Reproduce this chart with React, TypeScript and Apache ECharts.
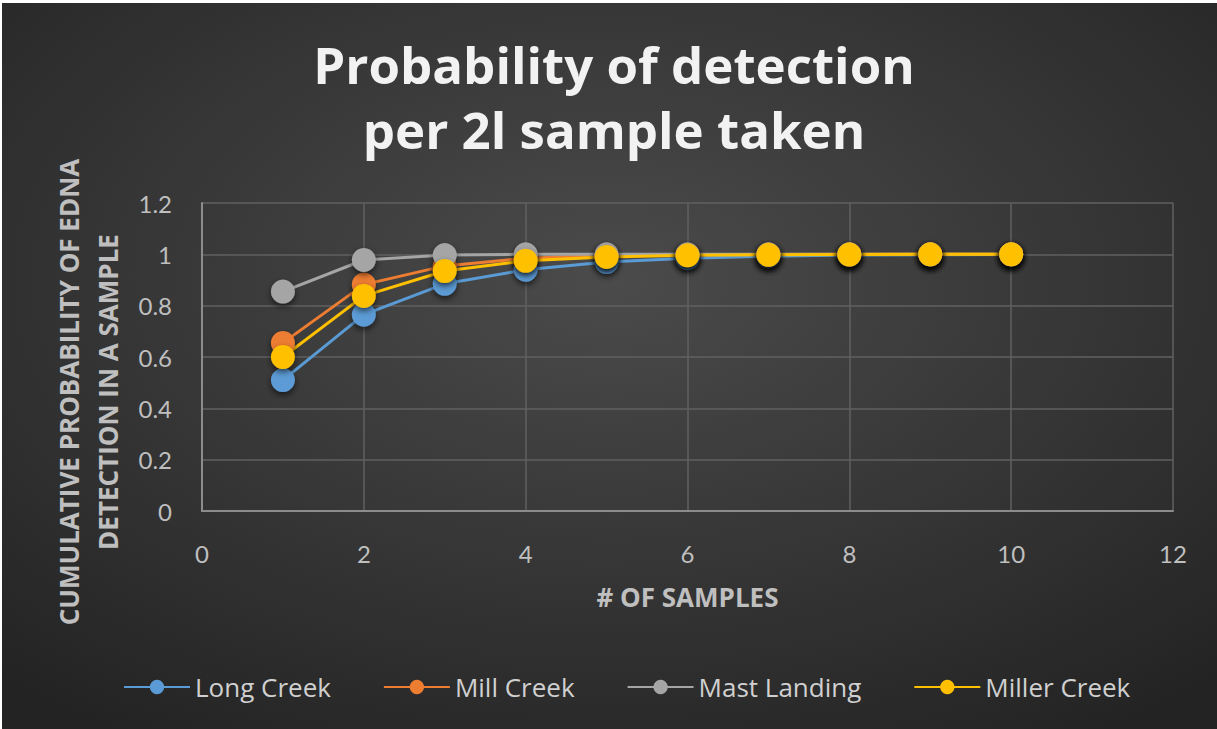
import React, { useEffect, useRef } from "react";
import * as echarts from "echarts";

const seriesNames = ["Long Creek", "Mill Creek", "Mast Landing", "Miller Creek"];
const colors = ["#5B9BD5", "#ED7D31", "#A5A5A5", "#FFC000"];
const samples = [1, 2, 3, 4, 5, 6, 7, 8, 9, 10];
const longCreek = [0.51, 0.765, 0.885, 0.94, 0.97, 0.985, 0.993, 0.997, 0.998, 0.999];
const millCreek = [0.655, 0.882, 0.955, 0.985, 0.995, 0.998, 0.999, 1, 1, 1];
const mastLanding = [0.855, 0.978, 0.997, 1, 1, 1, 1, 1, 1, 1];
const millerCreek = [0.6, 0.838, 0.935, 0.975, 0.99, 0.996, 0.998, 0.999, 1, 1];
const allValues = [longCreek, millCreek, mastLanding, millerCreek];
const titleText = "Probability of detection\nper 2l sample taken";
const yName = "CUMULATIVE PROBABILITY OF EDNA\nDETECTION IN A SAMPLE";
const xName = "# OF SAMPLES";

export default function App() {
  const ref = useRef<HTMLDivElement>(null);
  useEffect(() => {
    document.body.style.margin = "0";
    const chart = echarts.init(ref.current!, null, { renderer: "svg" });
    const font = "Lato, 'Open Sans', sans-serif";
    const wide = "'Open Sans', Lato, sans-serif";
    chart.setOption({
      animation: false,
      backgroundColor: "#ffffff",
      textStyle: { fontFamily: font },
      graphic: [
        {
          type: "rect",
          z: -100,
          silent: true,
          shape: { x: 2, y: 3, width: 1215, height: 726 },
          style: {
            fill: {
              type: "radial",
              x: 0.5,
              y: 0.38,
              r: 0.75,
              colorStops: [
                { offset: 0, color: "#4b4b4b" },
                { offset: 1, color: "#232323" },
              ],
            },
          },
        },
        {
          type: "text",
          x: 614,
          y: 96,
          style: {
            text: titleText,
            font: `bold 51px ${wide}`,
            fill: "#f2f2f2",
            align: "center",
            verticalAlign: "middle",
            lineHeight: 65,
            shadowBlur: 4,
            shadowColor: "rgba(0,0,0,0.7)",
            shadowOffsetX: 2,
            shadowOffsetY: 2,
          },
        },
        {
          type: "text",
          x: 88,
          y: 392,
          rotation: Math.PI / 2,
          style: {
            text: yName,
            font: `bold 26px ${wide}`,
            fill: "#bfbfbf",
            align: "center",
            verticalAlign: "middle",
            lineHeight: 39,
          },
        },
      ],
      grid: { left: 202, right: 44, top: 203, bottom: 218 },
      legend: {
        bottom: 24,
        left: 118,
        itemWidth: 66,
        itemHeight: 18,
        itemGap: 52,
        textStyle: { color: "#d0d0d0", fontSize: 26, fontFamily: wide },
        data: seriesNames,
      },
      xAxis: {
        type: "value",
        min: 0,
        max: 12,
        interval: 2,
        name: xName,
        nameLocation: "middle",
        nameGap: 73,
        nameTextStyle: { color: "#bfbfbf", fontSize: 26, fontWeight: "bold", fontFamily: wide },
        axisLine: { show: true, lineStyle: { color: "#8c8c8c", width: 2 } },
        axisTick: { show: false },
        axisLabel: { color: "#bfbfbf", fontSize: 24, margin: 30 },
        splitLine: { show: true, lineStyle: { color: "#606060", width: 1.5 } },
      },
      yAxis: {
        type: "value",
        min: 0,
        max: 1.2,
        interval: 0.2,
        axisLine: { show: true, lineStyle: { color: "#8c8c8c", width: 2 } },
        axisTick: { show: false },
        axisLabel: { color: "#bfbfbf", fontSize: 24, margin: 30 },
        splitLine: { show: true, lineStyle: { color: "#606060", width: 1.5 } },
      },
      series: seriesNames.map((name, i) => ({
        name,
        type: "line",
        data: samples.map((s, j) => [s, allValues[i][j]]),
        symbol: "circle",
        symbolSize: 24,
        lineStyle: { color: colors[i], width: 3 },
        itemStyle: {
          color: colors[i],
          shadowBlur: 6,
          shadowColor: "rgba(0,0,0,0.6)",
          shadowOffsetY: 3,
        },
      })),
    });
    return () => chart.dispose();
  }, []);
  return <div ref={ref} style={{ width: 1217, height: 729 }} />;
}
